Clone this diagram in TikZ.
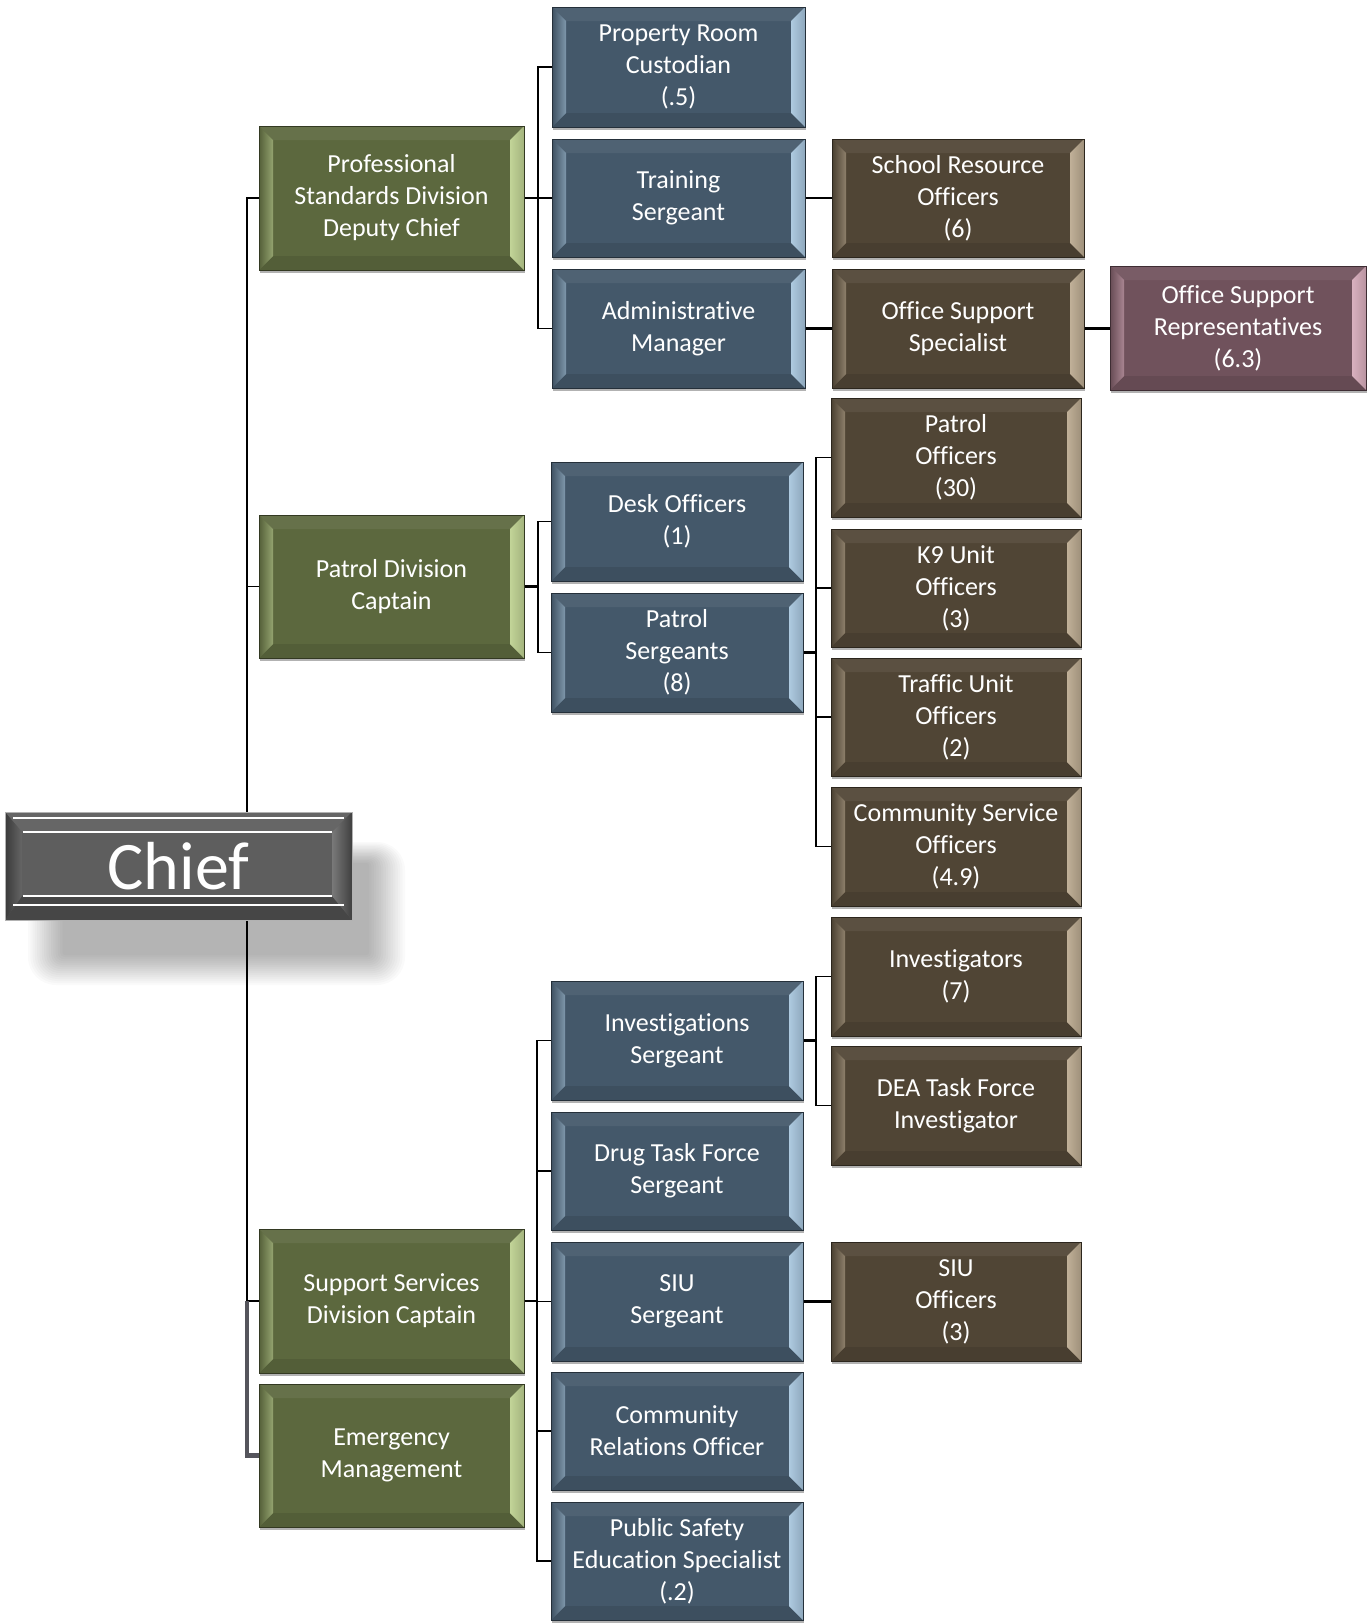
\documentclass[tikz,border=0pt]{standalone}
\usepackage{fontspec}
\setmainfont{Carlito}[Ligatures=NoCommon]
\usetikzlibrary{shadows}
\pgfdeclarelayer{shad}
\pgfdeclarelayer{lines}
\pgfsetlayers{shad,lines,main}
\definecolor{gface}{HTML}{5C683E}
\definecolor{glight}{HTML}{C2D498}
\definecolor{bface}{HTML}{44586A}
\definecolor{blight}{HTML}{AECAE0}
\definecolor{rface}{HTML}{504535}
\definecolor{rlight}{HTML}{C0B098}
\definecolor{mface}{HTML}{70525C}
\definecolor{mlight}{HTML}{D8B0BE}
\definecolor{cface}{HTML}{5E5E5E}
\definecolor{trunkgray}{HTML}{55555C}
\tikzset{
  bev/.style n args={2}{rectangle, fill=#1, draw=#1!55!black, line width=0.8pt,
    text=white, align=center, inner sep=0pt, outer sep=0pt,
    font=\fontsize{26}{32}\selectfont,
    drop shadow={shadow xshift=1pt, shadow yshift=-3pt, opacity=0.3, fill=black},
    path picture={
      \coordinate (SW) at (path picture bounding box.south west);
      \coordinate (NE) at (path picture bounding box.north east);
      \coordinate (NW) at (path picture bounding box.north west);
      \coordinate (SE) at (path picture bounding box.south east);
      \fill[#1!94!white] (NW) -- (NE) -- ([xshift=-14pt,yshift=-14pt]NE) -- ([xshift=14pt,yshift=-14pt]NW) -- cycle;
      \fill[#1!90!black] (SW) -- (SE) -- ([xshift=-14pt,yshift=14pt]SE) -- ([xshift=14pt,yshift=14pt]SW) -- cycle;
      \shade[left color=#1!92!black, right color=#2!55!#1] (SW) -- (NW) -- ([xshift=14pt,yshift=-14pt]NW) -- ([xshift=14pt,yshift=14pt]SW) -- cycle;
      \shade[left color=#2, right color=#2!70!#1] (SE) -- (NE) -- ([xshift=-14pt,yshift=-14pt]NE) -- ([xshift=-14pt,yshift=14pt]SE) -- cycle;
    }},
  green/.style={bev={gface}{glight}},
  blue/.style={bev={bface}{blight}},
  brown/.style={bev={rface}{rlight}},
  mauve/.style={bev={mface}{mlight}},
  chiefbox/.style={rectangle, fill=cface, draw=gray!60, line width=1pt,
    text=white, inner sep=0pt, outer sep=0pt,
    font=\fontsize{68}{80}\selectfont,
    path picture={
      \coordinate (SW) at (path picture bounding box.south west);
      \coordinate (NE) at (path picture bounding box.north east);
      \coordinate (NW) at (path picture bounding box.north west);
      \coordinate (SE) at (path picture bounding box.south east);
      \fill[gray!80!black] (NW) -- (NE) -- ([xshift=-20pt,yshift=-20pt]NE) -- ([xshift=17pt,yshift=-20pt]NW) -- cycle;
      \fill[gray!55!black] (SW) -- (SE) -- ([xshift=-20pt,yshift=24pt]SE) -- ([xshift=17pt,yshift=24pt]SW) -- cycle;
      \shade[left color=gray!45!black, right color=gray!80!black] (SW) -- (NW) -- ([xshift=17pt,yshift=-20pt]NW) -- ([xshift=17pt,yshift=24pt]SW) -- cycle;
      \shade[left color=gray!95!black, right color=gray!50!black] (SE) -- (NE) -- ([xshift=-20pt,yshift=-20pt]NE) -- ([xshift=-20pt,yshift=24pt]SE) -- cycle;
      \draw[white, line width=1.8pt] ([xshift=8pt,yshift=-6pt]NW) -- ([xshift=-8pt,yshift=-6pt]NE);
      \draw[white, line width=1.8pt] ([xshift=8pt,yshift=15pt]SW) -- ([xshift=-8pt,yshift=15pt]SE);
      \draw[white, line width=1.6pt] ([xshift=18pt,yshift=-20pt]NW) -- ([xshift=-20pt,yshift=-20pt]NE);
      \draw[white, line width=1.6pt] ([xshift=18pt,yshift=24pt]SW) -- ([xshift=-20pt,yshift=24pt]SE);
    }},
  bus/.style={draw=black, line width=1.4pt},
  stub/.style={draw=black, line width=2.8pt},
  trunkthin/.style={draw=black, line width=1.8pt},
  trunkthick/.style={draw=black, line width=2.8pt},
  trunkgrey/.style={draw=trunkgray, line width=4.5pt},
}
\newcommand\ob[7]{\node[#6, minimum width={(#4-#2)*1pt}, minimum height={(#5-#3)*1pt}] (#1) at ({(#2+#4)/2},{(#3+#5)/2}) {#7};}
\begin{document}
\begin{tikzpicture}[x=1pt,y=-1pt]
\useasboundingbox (0,0) rectangle (1371,1623);
% boxes
\ob{chief}{5}{812}{352}{920}{chiefbox}{Chief}
\ob{psd}{259}{126}{524}{270}{green}{Professional\\Standards Division\\Deputy Chief}
\ob{pd}{259}{515}{524}{658}{green}{Patrol Division\\Captain}
\ob{ss}{259}{1229}{524}{1373}{green}{Support Services\\Division Captain}
\ob{em}{259}{1384}{524}{1527}{green}{Emergency\\Management}
\ob{prop}{552}{7}{805}{127}{blue}{Property Room\\Custodian\\(.5)}
\ob{train}{552}{139}{805}{257}{blue}{Training\\Sergeant}
\ob{admin}{552}{269}{805}{388}{blue}{Administrative\\Manager}
\ob{desk}{551}{462}{803}{581}{blue}{Desk Officers\\(1)}
\ob{psgt}{551}{593}{803}{712}{blue}{Patrol\\Sergeants\\(8)}
\ob{inv}{551}{981}{803}{1100}{blue}{Investigations\\Sergeant}
\ob{drug}{551}{1112}{803}{1230}{blue}{Drug Task Force\\Sergeant}
\ob{siu}{551}{1242}{803}{1361}{blue}{SIU\\Sergeant}
\ob{comm}{551}{1372}{803}{1490}{blue}{Community\\Relations Officer}
\ob{pub}{551}{1502}{803}{1620}{blue}{Public Safety\\Education Specialist\\(.2)}
\ob{sro}{832}{139}{1084}{257}{brown}{School Resource\\Officers\\(6)}
\ob{oss}{832}{269}{1084}{388}{brown}{Office Support\\Specialist}
\ob{po}{831}{398}{1081}{517}{brown}{Patrol\\Officers\\(30)}
\ob{k9}{831}{529}{1081}{647}{brown}{K9 Unit\\Officers\\(3)}
\ob{tu}{831}{658}{1081}{776}{brown}{Traffic Unit\\Officers\\(2)}
\ob{cso}{831}{787}{1081}{906}{brown}{Community Service\\Officers\\(4.9)}
\ob{invs}{831}{917}{1081}{1036}{brown}{Investigators\\(7)}
\ob{dea}{831}{1046}{1081}{1165}{brown}{DEA Task Force\\Investigator}
\ob{siuo}{831}{1242}{1081}{1361}{brown}{SIU\\Officers\\(3)}
\ob{osr}{1110}{266}{1366}{390}{mauve}{Office Support\\Representatives\\(6.3)}
% white page and chief soft shadow
\begin{pgfonlayer}{shad}
\fill[white] (0,0) rectangle (1371,1623);
\foreach \i in {0,...,15}{
  \fill[black, opacity=0.02, rounded corners={(28-1.7*\i)*1pt}] ({28+2.3*\i},{842+1.4*\i}) rectangle ({405-2.4*\i},{985-2.0*\i});
}
\end{pgfonlayer}
% connectors
\begin{pgfonlayer}{lines}
\coordinate (T) at (247,0);
\coordinate (B1) at (538,0);
\coordinate (B2) at (537,0);
\coordinate (B3) at (816,0);
\draw[trunkthin] (psd.west) -| (T |- chief.north);
\draw[trunkthick] (T |- chief.north) -- (T |- ss.west) -- (ss.west);
\draw[trunkthin] (pd.west) -- (pd.west -| T);
\draw[trunkgrey] (T |- ss.west) |- (em.west);
\draw[stub] (psd.east) -- (psd.east -| B1);
\draw[bus] (prop.west) -| (B1 |- admin.west) -- (admin.west);
\draw[bus] (train.west) -- (train.west -| B1);
\draw[stub] (train.east) -- (sro.west);
\draw[stub] (admin.east) -- (oss.west);
\draw[stub] (oss.east) -- (oss.east -| osr.west);
\draw[stub] (pd.east) -- (pd.east -| B1);
\draw[bus] (desk.west) -| (B1 |- psgt.west) -- (psgt.west);
\draw[stub] (psgt.east) -- (psgt.east -| B3);
\draw[bus] (po.west) -| (B3 |- cso.west) -- (cso.west);
\draw[bus] (k9.west) -- (k9.west -| B3);
\draw[bus] (tu.west) -- (tu.west -| B3);
\draw[stub] (ss.east) -- (ss.east -| B2);
\draw[bus] (inv.west) -| (B2 |- pub.west) -- (pub.west);
\draw[bus] (drug.west) -- (drug.west -| B2);
\draw[bus] (siu.west) -- (siu.west -| B2);
\draw[bus] (comm.west) -- (comm.west -| B2);
\draw[stub] (inv.east) -- (inv.east -| B3);
\draw[bus] (invs.west) -| (B3 |- dea.west) -- (dea.west);
\draw[stub] (siu.east) -- (siuo.west);
\end{pgfonlayer}
\end{tikzpicture}
\end{document}
